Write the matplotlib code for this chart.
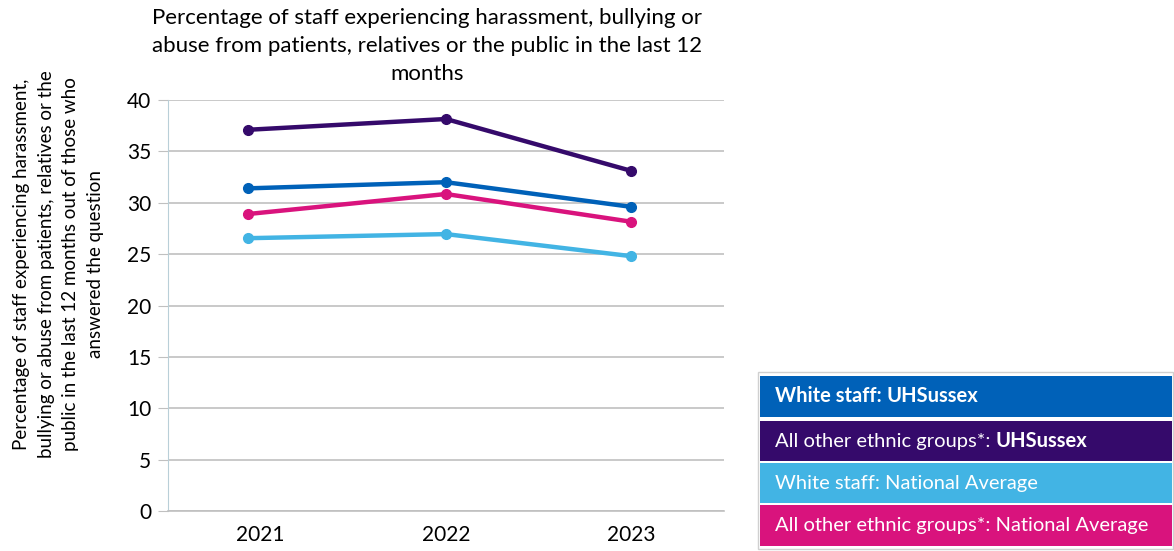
import matplotlib
matplotlib.use("Agg")
import matplotlib.pyplot as plt
from matplotlib.patches import Rectangle

plt.rcParams['font.family'] = ['Lato', 'DejaVu Sans']

years = ["2021", "2022", "2023"]
white_uhs = [31.4, 32.0, 29.6]
other_uhs = [37.1, 38.15, 33.1]
white_nat = [26.55, 26.95, 24.8]
other_nat = [28.9, 30.85, 28.15]

series = [
    (white_uhs, "#0061b8"),
    (other_uhs, "#350a6b"),
    (white_nat, "#42b4e4"),
    (other_nat, "#d9137d"),
]

legend_rows = [
    ("White staff: ", "UHSussex", True, "#0061b8"),
    ("All other ethnic groups*: ", "UHSussex", False, "#350a6b"),
    ("White staff: National Average", "", False, "#42b4e4"),
    ("All other ethnic groups*: National Average", "", False, "#d9137d"),
]

fig = plt.figure(figsize=(11.74, 5.51), dpi=100)
ax = fig.add_axes([168/1174, 1 - 511/551, (724-168)/1174, (511-100)/551])

x = [-0.07, 1.0, 2.0]
for vals, col in series:
    ax.plot(x, vals, color=col, linewidth=3.2, marker="o", markersize=7, zorder=3)

ax.set_ylim(0, 40)
ax.set_xlim(-0.5, 2.5)
ax.set_yticks(range(0, 41, 5))
ax.set_xticks([0, 1, 2])
ax.set_xticklabels(years)
ax.grid(axis="y", color="#c0c0c0", linewidth=1.2)
ax.set_axisbelow(True)
for s in ["top", "right"]:
    ax.spines[s].set_visible(False)
ax.spines["left"].set_color("#b9cfd8")
ax.spines["bottom"].set_color("#c0c0c0")
ax.spines["bottom"].set_linewidth(1.2)
ax.tick_params(axis="y", length=7, color="#c0c0c0", labelsize=15, pad=5)
ax.tick_params(axis="x", length=0, labelsize=15, pad=10)

ax.set_ylabel("Percentage of staff experiencing harassment,\nbullying or abuse from patients, relatives or the\n"
              "public in the last 12 months out of those who\nanswered the question",
              fontsize=13.5, linespacing=1.55, va="center")
ax.yaxis.set_label_coords(-0.197, 0.60)

fig.text(427/1174, 1 - 8/551,
         "Percentage of staff experiencing harassment, bullying or\n"
         "abuse from patients, relatives or the public in the last 12\nmonths",
         ha="center", va="top", fontsize=16, linespacing=1.5)

# legend boxes
lax = fig.add_axes([0, 0, 1, 1])
lax.set_xlim(0, 1174)
lax.set_ylim(551, 0)
lax.axis("off")
lax.add_patch(Rectangle((758, 372), 415, 177, facecolor="white", edgecolor="#d0d0d0", linewidth=1))
tops = [376, 421, 463, 505]
heights = [41, 40, 40, 41]
for (txt, bold_txt, all_bold, col), top, h in zip(legend_rows, tops, heights):
    lax.add_patch(Rectangle((760, top), 412, h, facecolor=col, edgecolor="none"))
    t = lax.text(775, top + h/2, txt, color="white", fontsize=14.5, va="center", ha="left",
                 fontweight="bold" if all_bold else "normal")
    if bold_txt:
        fig.canvas.draw()
        bb = t.get_window_extent()
        inv = lax.transData.inverted()
        x1 = inv.transform((bb.x1, bb.y0))[0]
        lax.text(x1, top + h/2, bold_txt, color="white", fontsize=14.5, va="center", ha="left",
                 fontweight="bold")

fig.savefig("out.png", dpi=100)
